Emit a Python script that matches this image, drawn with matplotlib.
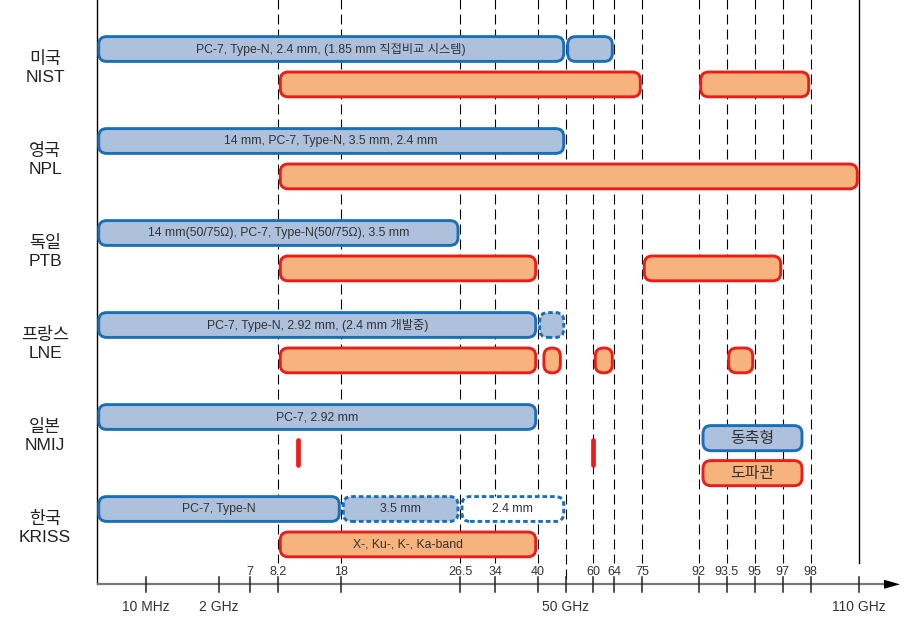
import numpy as np
import matplotlib.pyplot as plt
from matplotlib.patches import FancyBboxPatch, Polygon
from matplotlib.transforms import IdentityTransform, blended_transform_factory

plt.rcParams['font.family'] = ['Liberation Sans', 'Noto Sans CJK KR', 'DejaVu Sans']

# institutes, top to bottom
labs = ['미국\nNIST', '영국\nNPL', '독일\nPTB', '프랑스\nLNE', '일본\nNMIJ', '한국\nKRISS']

# coaxial ranges (GHz)
coax_lab = [0, 0, 1, 2, 3, 3, 4, 5, 5, 5]
coax_start = [0, 50, 0, 0, 0, 40, 0, 0, 18, 26.5]
coax_stop = [50, 64, 50, 26.5, 40, 50, 40, 18, 26.5, 50]
coax_text = ['PC-7, Type-N, 2.4 mm, (1.85 mm 직접비교 시스템)', '',
             '14 mm, PC-7, Type-N, 3.5 mm, 2.4 mm',
             '14 mm(50/75Ω), PC-7, Type-N(50/75Ω), 3.5 mm',
             'PC-7, Type-N, 2.92 mm, (2.4 mm 개발중)', '',
             'PC-7, 2.92 mm',
             'PC-7, Type-N', '3.5 mm', '2.4 mm']
coax_planned = [False, False, False, False, False, True, False, False, True, True]
coax_filled = [True, True, True, True, True, True, True, True, True, False]

# waveguide ranges (GHz)
wg_lab = [0, 0, 1, 2, 2, 3, 3, 3, 3, 5]
wg_start = [8.2, 92, 8.2, 8.2, 75, 8.2, 41.5, 60, 93.5, 8.2]
wg_stop = [75, 98, 110, 40, 97, 40, 48.8, 64, 95, 40]
wg_text = ['', '', '', '', '', '', '', '', '', 'X-, Ku-, K-, Ka-band']

# single waveguide frequencies (NMIJ)
pt_lab = [4, 4]
pt_freq = [11.3, 60]

# frequency axis
band_ticks = [7, 8.2, 18, 26.5, 34, 40, 60, 64, 75, 92, 93.5, 95, 97, 98]
main_ticks = [0.01, 2, 50, 110]
main_labels = ['10 MHz', '2 GHz', '50 GHz', '110 GHz']

# the frequency axis is not to scale: piecewise-linear breakpoints
scale_f = [0, 0.01, 2, 7, 8.2, 18, 26.5, 34, 40, 50, 60, 64, 75, 92, 93.5, 95, 97, 98, 110]
scale_u = [0, 49, 122, 153.6, 181.6, 244.6, 363.3, 398.6, 441, 469, 496.6,
           517.6, 545.6, 602, 630, 658, 686, 714, 762.6]

def fwd(f):
    return np.interp(f, scale_f, scale_u)

def inv(u):
    return np.interp(u, scale_u, scale_f)

coax_face, coax_edge = '#adc0dc', '#1b6fb6'
wg_face, wg_edge = '#f7b37d', '#ee1b1b'
txt_col = '#333333'

W, H = 921, 626
fig = plt.figure(figsize=(W/100, H/100), dpi=100)
ax = fig.add_axes([96.7/W, 0, 762.6/W, 1])
ax.set_xscale('function', functions=(fwd, inv))
ax.set_xlim(0, 110)
ax.set_ylim(577/92, -49/92)
ax.axis('off')

wg_off = 0.385
bar_h = 28/92
y_axis = 5.818
y_lines_end = 5.587

def rbox(x0, x1, y0, y1, face, edge, dotted=False, text='', fs=8.8):
    # display pixel box (outer edge incl. stroke)
    pad, vpad = 2.0, 1.6
    ls = (0, (1.6, 1.0)) if dotted else '-'
    p = FancyBboxPatch((x0 + pad, y0 + vpad), x1 - x0 - 2*pad, y1 - y0 - 2*vpad,
                       boxstyle='round,pad=0,rounding_size=8', fc=face, ec=edge,
                       lw=2.1, ls=ls, transform=IdentityTransform(), zorder=3)
    ax.add_patch(p)
    if text:
        ax.text((x0 + x1)/2, (y0 + y1)/2, text, transform=IdentityTransform(),
                ha='center', va='center', fontsize=fs, color=txt_col, zorder=4)

def bar(f0, f1, yc, face, edge, dotted=False, text=''):
    xa, ya = ax.transData.transform((f0, yc + bar_h/2))
    xb, yb = ax.transData.transform((f1, yc - bar_h/2))
    rbox(xa, xb, min(ya, yb), max(ya, yb), face, edge, dotted, text)

# grid lines
for f in band_ticks:
    if f == 7:
        continue
    ax.plot([f, f], [-0.6, y_lines_end], color='black', lw=0.8,
            ls=(0, (9, 4.5)), zorder=1)
ax.plot([50, 50], [-0.6, y_axis], color='black', lw=0.8, ls=(0, (9, 4.5)), zorder=1)
ax.plot([110, 110], [-0.6, y_lines_end], color='black', lw=1.0, zorder=1, clip_on=False)
ax.plot([0, 0], [-0.6, y_axis], color='black', lw=1.0, zorder=1, clip_on=False)

# frequency axis with arrow
trans_px = IdentityTransform()
ya = H - 584.3
ax.plot([96.7, 886], [ya, ya], color='#777777', lw=1.6, transform=trans_px,
        clip_on=False, zorder=2, solid_capstyle='butt')
ax.add_patch(Polygon([[884, ya + 4.5], [884, ya - 4.5], [900, ya]], closed=True,
                     fc='black', ec='none', transform=trans_px, clip_on=False, zorder=2))
for f in band_ticks + main_ticks:
    ax.plot([f, f], [5.739, 5.902], color='#222222', lw=1.1, zorder=2, clip_on=False)
for f in band_ticks:
    ax.text(f, 5.682, f'{f:g}', ha='center', va='center', fontsize=9, color=txt_col)
for f, lab in zip(main_ticks, main_labels):
    ax.text(f, 6.062, lab, ha='center', va='center', fontsize=10, color=txt_col)

# institute labels
lab_trans = blended_transform_factory(fig.transFigure, ax.transData)
for i, lab in enumerate(labs):
    ax.text(45/W, i + 0.205, lab, transform=lab_trans, ha='center', va='center',
            fontsize=12.5, linespacing=1.3, color='#222222')

# coaxial bars
for i, f0, f1, t, d, fl in zip(coax_lab, coax_start, coax_stop, coax_text,
                               coax_planned, coax_filled):
    bar(f0, f1, i, coax_face if fl else 'white', coax_edge, d, t)

# waveguide bars
for i, f0, f1, t in zip(wg_lab, wg_start, wg_stop, wg_text):
    bar(f0, f1, i + wg_off, wg_face, wg_edge, False, t)

# single-frequency waveguide marks
for i, f in zip(pt_lab, pt_freq):
    ax.plot([f, f], [i + wg_off - 0.135, i + wg_off + 0.135], color=wg_edge,
            lw=3.4, solid_capstyle='round', zorder=3)

# legend
rbox(701, 804, H - 452.3, H - 424, coax_face, coax_edge, text='동축형', fs=11.5)
rbox(701, 804, H - 487.3, H - 459, wg_face, wg_edge, text='도파관', fs=11.5)

fig.savefig('out.png', dpi=100)
